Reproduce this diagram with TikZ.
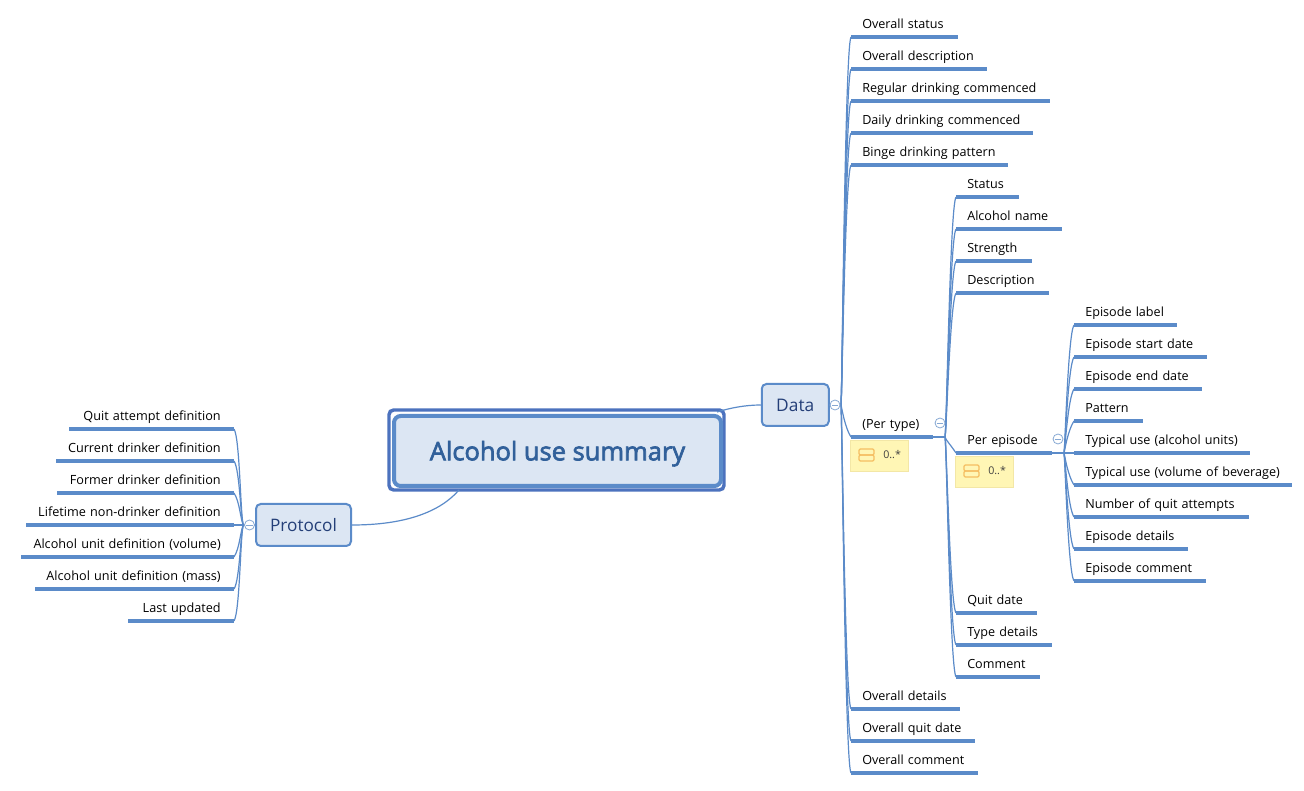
\documentclass[tikz,border=0pt]{standalone}
\usepackage{fontspec}
\setmainfont{Open Sans}
\usetikzlibrary{calc}
\definecolor{lineblue}{HTML}{5B8BC9}
\definecolor{framedark}{HTML}{4C72BE}
\definecolor{boxfill}{HTML}{DCE6F3}
\definecolor{titleblue}{HTML}{31609A}
\definecolor{hubblue}{HTML}{243F78}
\definecolor{tagfill}{HTML}{FFF6B5}
\definecolor{tagedge}{HTML}{F3E7A6}
\definecolor{tagicon}{HTML}{F5BE62}
\definecolor{circleblue}{HTML}{86A8D3}
\tikzset{
  x=0.75pt,y=-0.75pt,
  leaf/.style={inner sep=0pt,text height=7.5pt,text depth=5.85pt,text=black},
  rfont/.style={font=\fontsize{9.45}{11}\selectfont},
  lfont/.style={font=\fontsize{9.5}{11}\selectfont},
  conn/.style={draw=lineblue,line width=0.9pt},
  hubbox/.style={draw=lineblue,fill=boxfill,line width=1.5pt,rounded corners=3.5pt,text=hubblue,inner sep=0pt,text height=10.5pt,text depth=0pt},
  collapse/.style={circle,draw=circleblue,fill=white,line width=0.6pt,minimum size=7.5pt,inner sep=0pt,
     path picture={\draw[circleblue,line width=0.6pt] ([xshift=-2.4pt]path picture bounding box.center) -- ([xshift=2.4pt]path picture bounding box.center);}},
  tag/.style={draw=tagedge,fill=tagfill,line width=0.5pt,minimum width=43.5pt,minimum height=23.25pt,inner sep=0pt},
  tagbar/.style={draw=tagicon,line width=0.9pt,rounded corners=1pt}
}
\newcommand\ulinebar[1]{%
  \fill[lineblue] ($(#1.south west)+(0,-1.9)$) rectangle ($(#1.south east)+(0,1.9)$);}
% right leaf: name, x0, x1, y, text
\newcommand\rleaf[5]{%
  \pgfmathsetmacro\leafw{(#3-#2)*0.75}%
  \node[leaf,rfont,anchor=south west,text width=\leafw pt,align=left] (#1) at (#2,#4) {\hspace*{8.25pt}#5};%
  \ulinebar{#1}}
% left leaf: name, x0, x1, y, text
\newcommand\lleaf[5]{%
  \pgfmathsetmacro\leafw{(#3-#2)*0.75}%
  \node[leaf,lfont,anchor=south east,text width=\leafw pt,align=right] (#1) at (#3,#4) {#5\hspace*{9.75pt}};%
  \ulinebar{#1}}
\newcommand\tagnote[3]{%
  \node[tag,anchor=north west] (#1) at (#2,#3) {};%
  \draw[tagbar] ($(#1.north west)+(9,9)$) rectangle ($(#1.north west)+(24,15)$);%
  \draw[tagbar] ($(#1.north west)+(9,15)$) rectangle ($(#1.north west)+(24,21)$);%
  \node[inner sep=0pt,anchor=base west,font=\fontsize{8}{10}\selectfont,text=black!75] (#1t) at ($(#1.north west)+(33,19)$) {0..*};}
\begin{document}
\begin{tikzpicture}
\useasboundingbox (0,0) rectangle (1304,791);
\fill[white] (0,0) rectangle (1304,791);

% central topic
\node[draw=framedark,line width=2.6pt,rounded corners=3.5pt,fill=white,minimum width=251.25pt,minimum height=60pt,inner sep=0pt] (frame) at (556.5,450) {};
\node[draw=lineblue,line width=3pt,rounded corners=5pt,fill=boxfill,minimum width=245.25pt,minimum height=52.5pt,inner sep=0pt,text=titleblue,font=\fontsize{19.1}{22}\selectfont,text height=14pt,text depth=0pt] (central) at (557.5,451) {\special{pdf:code 2 Tr 0.5 w}Alcohol use summary\special{pdf:code 0 Tr}};

% main topics
\node[hubbox,minimum width=50.25pt,minimum height=31.5pt,font=\fontsize{13}{15}\selectfont] (data) at (795.25,405) {Data};
\node[hubbox,minimum width=71.25pt,minimum height=31.5pt,font=\fontsize{12.9}{15}\selectfont] (protocol) at (303.5,525) {Protocol};

% Data children
\rleaf{d1}{851}{957}{37}{Overall status}
\rleaf{d2}{851}{986}{69}{Overall description}
\rleaf{d3}{851}{1049}{101}{Regular drinking commenced}
\rleaf{d4}{851}{1032}{133}{Daily drinking commenced}
\rleaf{d5}{851}{1007}{165}{Binge drinking pattern}
\rleaf{pt}{851}{932}{437}{(Per type)}
\rleaf{d7}{851}{959}{709}{Overall details}
\rleaf{d8}{851}{974}{741}{Overall quit date}
\rleaf{d9}{851}{977}{773}{Overall comment}

% Per type children
\rleaf{t1}{956}{1018}{197}{Status}
\rleaf{t2}{956}{1061}{229}{Alcohol name}
\rleaf{t3}{956}{1031}{261}{Strength}
\rleaf{t4}{956}{1048}{293}{Description}
\rleaf{pe}{956}{1051}{453}{Per episode}
\rleaf{t6}{956}{1036}{613}{Quit date}
\rleaf{t7}{956}{1051}{645}{Type details}
\rleaf{t8}{956}{1039}{677}{Comment}

% Per episode children
\rleaf{e1}{1074}{1176}{325}{Episode label}
\rleaf{e2}{1074}{1206}{357}{Episode start date}
\rleaf{e3}{1074}{1201}{389}{Episode end date}
\rleaf{e4}{1074}{1142}{421}{Pattern}
\rleaf{e5}{1074}{1249}{453}{Typical use (alcohol units)}
\rleaf{e6}{1074}{1291}{485}{Typical use (volume of beverage)}
\rleaf{e7}{1074}{1248}{517}{Number of quit attempts}
\rleaf{e8}{1074}{1187}{549}{Episode details}
\rleaf{e9}{1074}{1205}{581}{Episode comment}

% Protocol children
\lleaf{p1}{70}{234}{429}{Quit attempt definition}
\lleaf{p2}{57}{234}{461}{Current drinker definition}
\lleaf{p3}{58}{234}{493}{Former drinker definition}
\lleaf{p4}{27}{234}{525}{Lifetime non-drinker definition}
\lleaf{p5}{22}{234}{557}{Alcohol unit definition (volume)}
\lleaf{p6}{36}{234}{589}{Alcohol unit definition (mass)}
\lleaf{p7}{129}{234}{621}{Last updated}

% notes
\tagnote{tg1}{850}{440}
\tagnote{tg2}{955}{456}

% collapse markers
\coordinate (jt) at (945,437);
\coordinate (je) at (1064,453);
\coordinate (jd) at (841,405);
\coordinate (jp) at (243.5,525);

% connectors between topics
\draw[conn] (protocol.east) .. controls (405,525) and (440,512) .. ($(central.south west)+(67,2)$);
\draw[conn] ($(central.north east)+(-6,-2)$) .. controls (730,408) and (745,405) .. (data.west);
\draw[conn] (data.east) -- (jd);
\draw[conn] (protocol.west) -- (jp);
\draw[conn] (p4.south east) -- (jp);
\draw[conn] (pt.south east) -- (jt);
\draw[conn] (pe.south east) -- (je);
\draw[conn] (je) -- (e5.south west);

% fans
\foreach \n in {d1,d2,d3,d4,d5}
  \draw[conn] (jd) .. controls +(1,-4) and +(-6,9) .. (\n.south west);
\foreach \n in {pt,d7,d8,d9}
  \draw[conn] (jd) .. controls +(1,4) and +(-6,-9) .. (\n.south west);
\foreach \n in {t1,t2,t3,t4}
  \draw[conn] (jt) .. controls +(1.5,-4) and +(-6,9) .. (\n.south west);
\foreach \n in {pe,t6,t7,t8}
  \draw[conn] (jt) .. controls +(1.5,4) and +(-6,-9) .. (\n.south west);
\foreach \n in {e1,e2,e3,e4}
  \draw[conn] (je) .. controls +(1,-4) and +(-6,9) .. (\n.south west);
\foreach \n in {e6,e7,e8,e9}
  \draw[conn] (je) .. controls +(1,4) and +(-6,-9) .. (\n.south west);
\foreach \n in {p1,p2,p3}
  \draw[conn] (jp) .. controls +(-3,-4) and +(6,9) .. (\n.south east);
\foreach \n in {p5,p6,p7}
  \draw[conn] (jp) .. controls +(-3,4) and +(6,-9) .. (\n.south east);

\node[collapse] (cd) at (835,405) {};
\node[collapse] (cp) at (249.5,525) {};
\node[collapse] (ct) at (940,423) {};
\node[collapse] (ce) at (1058,439) {};
\end{tikzpicture}
\end{document}
